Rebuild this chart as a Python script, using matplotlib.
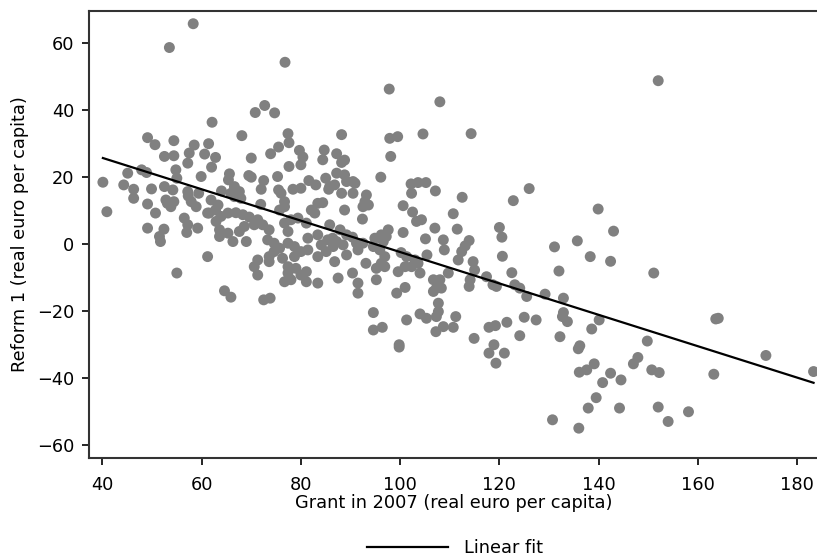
import numpy as np
import matplotlib.pyplot as plt

plt.rcParams['font.family'] = ['DejaVu Sans']

# points (grant 2007, reform 1), real euro per capita
grant = [
    58.3, 53.5, 76.8, 72.7, 70.8, 74.7, 62.1, 49.1, 50.6, 54.4, 58.5, 61.4, 68.1, 77.4, 77.6, 75.5,
    73.9, 79.7, 84.7, 52.5, 54.4, 57.5, 60.6, 62.8, 70.0, 80.4, 84.4,
    97.8, 108.0, 88.2, 97.9, 99.5, 104.6, 114.3, 87.2, 98.1, 88.8,
    152.0,
    139.9, 143.0, 135.7, 138.3, 142.4, 151.1,
    140.1, 138.6, 136.2, 135.9, 149.8, 163.6, 164.1, 173.7, 183.3, 163.2, 147.9, 147.0, 139.1, 137.6,
    136.1, 142.4, 140.8, 144.5, 150.7, 152.2, 139.5, 137.9, 144.2, 152.0, 158.1, 154.0, 136.0,
    94.6, 94.6, 96.4, 101.3, 99.8, 99.8, 104.0, 105.3, 107.3, 107.7, 107.2, 108.7, 110.7, 111.2, 114.9,
    117.9, 119.2, 121.5, 125.0, 127.4, 124.1, 118.9, 117.9, 121.0, 119.3, 132.2, 132.7, 133.7, 132.9,
    130.7,
    77.6, 80.0, 47.9, 48.9, 45.1, 40.1, 44.3, 46.3, 46.3, 49.9, 52.5, 54.2, 54.8, 55.0, 57.2, 59.9,
    62.0, 65.6, 65.4, 69.5, 70.0, 72.5, 72.0, 75.3, 75.5, 78.4, 80.0, 81.6, 83.0, 85.0, 85.6, 57.2,
    57.3, 59.4, 57.9, 58.9, 64.0, 66.6, 67.6, 66.6, 67.9, 65.9, 49.1, 50.7, 52.8, 54.4, 53.8, 53.1,
    40.9, 61.9, 63.3, 61.5, 62.8, 71.9, 76.0, 76.7, 75.7, 76.7, 83.4, 84.4, 82.1, 82.8, 56.5, 57.2,
    59.2, 57.0, 49.1, 52.4, 51.5, 51.7, 61.2,
    62.9, 63.9, 65.3, 66.9, 68.3, 69.6, 71.3, 63.6, 65.3, 63.6, 66.3, 68.6, 67.6, 69.0, 70.6, 72.3,
    73.6, 73.3, 74.6,
    76.7, 78.0, 79.4, 81.1, 77.4, 81.4, 83.4, 84.1, 85.4, 86.4, 75.7, 77.4, 78.7, 74.6, 73.6, 76.3,
    78.7, 80.0, 81.4, 83.4, 85.1, 71.3, 70.6, 71.3, 73.6, 77.4, 79.0, 81.1, 77.4, 80.0, 76.7, 78.0,
    81.1, 83.4, 61.2, 55.0, 64.6, 65.9, 72.5, 73.8,
    88.2, 87.2, 88.8, 89.2, 90.5, 90.9, 85.8, 86.8, 88.2, 90.5, 93.2, 92.9, 93.6, 92.5, 96.1, 88.8,
    92.4, 102.2, 103.6, 105.2, 102.3, 107.1, 100.6, 102.5, 103.3, 104.3, 112.5, 110.7, 122.8, 126.0,
    85.8, 87.9, 89.2, 90.4, 87.2, 88.5, 86.5, 89.2, 86.8, 87.5, 91.2, 91.5, 92.5, 94.9, 96.2, 97.6,
    97.2, 96.6, 94.6, 95.9, 96.9, 96.2, 95.2, 96.9, 93.1, 90.4, 91.5, 91.5, 95.2, 100.6, 100.2, 101.3,
    103.0, 103.6, 102.3, 99.6, 101.0, 105.1, 105.4, 104.0, 99.3, 101.0, 107.0, 108.7, 108.9, 111.5,
    113.9, 113.1, 112.4, 111.7, 109.7, 106.7, 108.0, 107.3, 108.3, 106.7, 107.7, 114.7, 115.0, 114.1,
    113.9, 117.4, 120.0, 120.5, 120.6, 122.5, 119.4, 118.7, 123.1, 124.1, 125.5, 129.2, 132.9, 131.1,
    132.0,
]
reform = [
    65.7, 58.6, 54.2, 41.3, 39.2, 39.1, 36.3, 31.7, 29.6, 30.8, 29.5, 29.9, 32.3, 32.9, 30.2, 28.9,
    26.9, 27.9, 28.0, 26.1, 26.3, 27.1, 26.8, 25.8, 25.6, 25.9, 25.1,
    46.2, 42.4, 32.6, 31.5, 32.0, 32.8, 32.9, 26.9, 26.1, 25.0,
    48.7,
    10.4, 3.8, 0.9, -3.8, -5.2, -8.7,
    -22.7, -25.4, -30.4, -31.3, -29.0, -22.4, -22.2, -33.3, -38.1, -38.9, -33.9, -35.8, -35.8, -37.6,
    -38.3, -38.6, -41.4, -40.6, -37.6, -38.4, -45.9, -49.0, -49.0, -48.7, -50.1, -53.0, -55.0,
    -20.5, -25.7, -24.9, -22.7, -30.1, -30.8, -20.9, -22.2, -21.7, -20.2, -26.2, -24.7, -24.9, -21.7,
    -28.2, -24.9, -24.4, -23.4, -21.9, -22.7, -27.4, -30.1, -32.6, -32.6, -35.6, -27.7, -21.7, -23.2,
    -20.5, -52.5,
    23.1, 23.6, 22.1, 21.3, 21.1, 18.4, 17.6, 16.3, 13.6, 16.4, 17.1, 16.1, 22.1, 19.6, 24.1, 20.1,
    22.9, 20.9, 19.1, 20.4, 19.9, 18.9, 16.3, 20.1, 16.1, 16.3, 16.6, 18.9, 17.6, 19.6, 16.3, 15.6,
    14.3, 15.1, 12.6, 11.1, 15.8, 17.1, 15.6, 14.1, 13.6, 15.1, 11.9, 9.2, 13.1, 12.6, 11.1, 12.1,
    9.6, 13.1, 11.6, 9.2, 10.1, 11.8, 15.1, 12.6, 10.1, 11.1, 12.1, 12.3, 10.1, 9.2, 7.7, 5.7,
    4.7, 3.4, 4.7, 4.4, 2.2, 0.7, 9.2,
    6.7, 8.2, 9.2, 9.3, 8.7, 8.0, 7.2, 4.2, 3.2, 2.2, 0.7, 5.2, 3.7, 0.7, 5.7, 5.7,
    4.2, 1.2, 0.2,
    6.2, 7.2, 7.7, 6.2, 3.7, 1.7, 2.7, -0.3, 1.2, 1.7, -1.3, 0.2, -0.8, -2.3, -3.8, -4.3,
    -3.8, -2.3, -1.8, -3.8, -2.3, -4.8, -6.8, -9.3, -5.3, -6.8, -7.3, -8.3, -8.7, -9.3, -11.3, -10.7,
    -11.3, -11.7, -3.8, -8.7, -14.0, -15.9, -16.7, -16.2,
    24.3, 21.1, 20.6, 18.6, 18.6, 18.1, 17.1, 17.6, 15.1, 15.1, 14.6, 12.6, 11.6, 11.1, 19.9, 10.1,
    7.4, 17.9, 18.3, 18.3, 15.1, 15.8, 11.4, 9.5, 6.7, 7.2, 13.9, 9.0, 12.9, 16.5,
    5.7, 4.2, 2.7, 2.0, 0.7, -0.3, -0.8, -3.3, -5.3, -10.2, 0.2, -1.8, 0.2, 1.7, 2.7, 4.2,
    2.2, 0.7, -0.8, -1.8, -3.8, -5.8, -7.3, -6.8, -5.8, -8.7, -11.7, -14.7, -10.7, 3.4, -2.6, -3.8,
    -4.8, -5.8, -6.8, -8.3, -6.8, 1.5, -3.3, -8.7, -14.7, -13.0, 4.7, 1.2, -1.8, 4.4,
    1.0, -0.6, -2.3, -4.8, -8.7, -10.7, -10.7, -13.2, -13.2, -14.2, -17.7, -5.3, -7.8, -10.7,
    -12.7, -9.8, 4.9, 2.0, -3.7, -8.6, -12.7, -12.2, -12.2, -13.2, -15.7, -15.0, -16.2, -0.9,
    -8.1,
]

x = np.array(grant)
y = np.array(reform)
slope, intercept = np.polyfit(x, y, 1)
xfit = np.array([x.min(), x.max()])

fig = plt.figure(figsize=(8.17, 5.6), dpi=100)
ax = fig.add_axes([88.5/817, 102/560, 731/817, 447/560])

ax.scatter(x, y, s=62, color='#808080', edgecolors='none', zorder=2)
fit, = ax.plot(xfit, intercept + slope*xfit, color='black', lw=1.6, zorder=3)

ax.set_xlim(37.2, 184.5)
ax.set_ylim(-63.9, 69.5)
ax.set_xticks(range(40, 181, 20))
ax.set_yticks(range(-60, 61, 20))
ax.tick_params(direction='out', length=5, width=1.2, labelsize=12.8, colors='black')
ax.tick_params(axis='x', pad=8)
ax.tick_params(axis='y', pad=5)
for side in ['left', 'bottom', 'top']:
    ax.spines[side].set_linewidth(1.5)
    ax.spines[side].set_color('#333333')
ax.spines['right'].set_visible(False)

ax.set_xlabel('Grant in 2007 (real euro per capita)', fontsize=12.8, labelpad=0)
ax.set_ylabel('Reform 1 (real euro per capita)', fontsize=12.8, labelpad=6)

fig.legend([fit], ['Linear fit'], loc='center', bbox_to_anchor=(455/817, 1 - 548/560),
           frameon=False, fontsize=12.8, handlelength=4.6, handletextpad=0.9)

fig.savefig('out.png', dpi=100)
